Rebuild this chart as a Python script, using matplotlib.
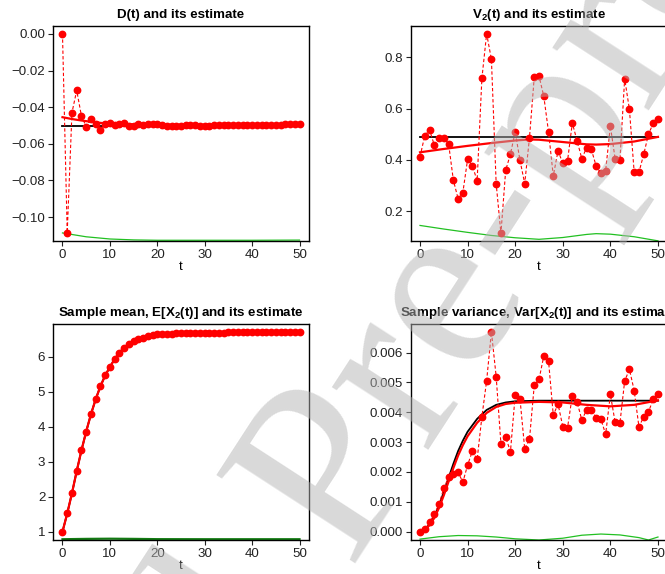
import matplotlib
matplotlib.use("Agg")
import matplotlib.pyplot as plt
import numpy as np

plt.rcParams["font.family"] = ["Liberation Sans", "DejaVu Sans"]
plt.rcParams["mathtext.fontset"] = "custom"
plt.rcParams["mathtext.bf"] = "Liberation Sans:bold"
plt.rcParams["mathtext.rm"] = "Liberation Sans:bold"
plt.rcParams["mathtext.default"] = "bf"

t = np.arange(51)

# D(t): simulated points, smooth estimate, true value, weight curve
d_pts = [0.0, -0.1085, -0.0430, -0.0309, -0.0448, -0.0506, -0.0463, -0.0492, -0.0523, -0.0494,
         -0.0488, -0.0495, -0.0492, -0.0488, -0.0503, -0.0501, -0.0494, -0.0495, -0.0494, -0.0492,
         -0.0494, -0.0495, -0.0501, -0.0505, -0.0505, -0.0503, -0.0497, -0.0497, -0.0499, -0.0501,
         -0.0501, -0.0503, -0.0499, -0.0497, -0.0495, -0.0495, -0.0495, -0.0495, -0.0499, -0.0499,
         -0.0499, -0.0497, -0.0497, -0.0497, -0.0495, -0.0495, -0.0495, -0.0494, -0.0494, -0.0494,
         -0.0494]
d_true = -0.0501
d_est_t = [0, 2, 4, 6, 8, 10, 15, 20, 25, 30, 35, 40, 45, 50]
d_est = [-0.0455, -0.0465, -0.0473, -0.0480, -0.0486, -0.0490, -0.0494, -0.0496, -0.0497,
         -0.0497, -0.0496, -0.0496, -0.0495, -0.0495]
d_w_t = [0, 5, 10, 15, 20, 30, 40, 50]
d_w = [-0.1087, -0.1108, -0.1120, -0.1125, -0.1127, -0.1127, -0.1127, -0.1126]

# V2(t)
v_pts = [0.413, 0.495, 0.517, 0.458, 0.486, 0.484, 0.464, 0.322, 0.249, 0.273,
         0.403, 0.378, 0.319, 0.718, 0.892, 0.792, 0.308, 0.114, 0.360, 0.423,
         0.510, 0.399, 0.308, 0.487, 0.722, 0.727, 0.649, 0.510, 0.338, 0.436,
         0.387, 0.397, 0.544, 0.475, 0.405, 0.448, 0.441, 0.377, 0.348, 0.358,
         0.532, 0.404, 0.399, 0.717, 0.597, 0.352, 0.352, 0.422, 0.500, 0.543,
         0.558]
v_true = 0.490
v_est_t = [0, 5, 10, 15, 20, 23, 25, 30, 35, 37, 40, 45, 50]
v_est = [0.430, 0.443, 0.455, 0.466, 0.476, 0.480, 0.479, 0.470, 0.461, 0.460, 0.462, 0.472, 0.490]
v_w_t = [0, 5, 10, 15, 20, 25, 30, 35, 37, 40, 45, 50]
v_w = [0.145, 0.131, 0.118, 0.106, 0.097, 0.091, 0.098, 0.110, 0.113, 0.111, 0.101, 0.085]

# sample mean E[X2(t)]
m_pts = [1.00, 1.52, 2.10, 2.73, 3.32, 3.86, 4.35, 4.78, 5.15, 5.46,
         5.70, 5.93, 6.11, 6.25, 6.35, 6.44, 6.50, 6.54, 6.58, 6.61,
         6.64, 6.65, 6.65, 6.65, 6.66, 6.66, 6.66, 6.67, 6.67, 6.67,
         6.67, 6.68, 6.68, 6.68, 6.68, 6.69, 6.69, 6.69, 6.69, 6.69,
         6.69, 6.70, 6.70, 6.70, 6.70, 6.70, 6.70, 6.71, 6.71, 6.71,
         6.71]
m_w_t = [0, 5, 10, 15, 20, 30, 40, 50]
m_w = [0.785, 0.795, 0.800, 0.795, 0.787, 0.785, 0.785, 0.785]

# sample variance Var[X2(t)]
s_pts = [0.0, 0.00009, 0.00031, 0.00058, 0.00093, 0.00145, 0.00183, 0.00193, 0.00199, 0.00166,
         0.00223, 0.00270, 0.00242, 0.00385, 0.00506, 0.00670, 0.00520, 0.00294, 0.00317, 0.00268,
         0.00458, 0.00446, 0.00277, 0.00310, 0.00490, 0.00510, 0.00588, 0.00573, 0.00390, 0.00428,
         0.00352, 0.00349, 0.00456, 0.00435, 0.00374, 0.00408, 0.00408, 0.00382, 0.00378, 0.00326,
         0.00460, 0.00366, 0.00363, 0.00505, 0.00544, 0.00473, 0.00351, 0.00385, 0.00401, 0.00444,
         0.00461]
s_curve_t = [0, 1, 2, 3, 4, 5, 6, 7, 8, 9, 10, 12, 14, 16, 18, 20, 25, 30, 35, 40, 45, 50]
s_true = [0.0, 0.00006, 0.00025, 0.00050, 0.00088, 0.00133, 0.00180, 0.00227, 0.00270, 0.00305,
          0.00335, 0.00378, 0.00408, 0.00425, 0.00433, 0.00437, 0.00439, 0.00439, 0.00439,
          0.00439, 0.00439, 0.00439]
s_est = [0.0, 0.00005, 0.00022, 0.00046, 0.00080, 0.00122, 0.00168, 0.00213, 0.00255, 0.00290,
         0.00320, 0.00365, 0.00398, 0.00418, 0.00428, 0.00432, 0.00435, 0.00433, 0.00425,
         0.00420, 0.00425, 0.00440]
s_w_t = [0, 4, 8, 12, 16, 20, 25, 30, 34, 38, 42, 46, 48, 50]
s_w = [-0.00025, -0.00017, -0.00013, -0.00014, -0.00018, -0.00024, -0.00028, -0.00022,
       -0.00012, -0.00008, -0.00011, -0.00020, -0.00028, -0.00018]

RED = "#ff0000"
GREEN = "#22c022"
W, H = 665, 574
FS = 9.6


def box(l, r, top, bot):
    return [l / W, 1 - bot / H, (r - l) / W, (bot - top) / H]


def style(ax, title, ylim, yticks, fmt):
    ax.set_xlim(-2, 52)
    ax.set_ylim(*ylim)
    ax.set_xticks([0, 10, 20, 30, 40, 50])
    ax.set_yticks(yticks)
    ax.set_yticklabels([(fmt % v).replace("-", "\u2212") for v in yticks])
    ax.tick_params(direction="out", length=3.5, width=0.8, labelsize=FS,
                   pad=2, colors="#222222")
    for s in ax.spines.values():
        s.set_linewidth(1.0)
    ax.set_title(title, fontsize=FS, fontweight="bold", pad=6)
    ax.set_xlabel("t", fontsize=FS, labelpad=0)


def draw(ax, pts, true_t, true_v, est_t, est_v, w_t, w_v, wcol=GREEN, wlw=0.9):
    ax.plot(w_t, w_v, color=wcol, lw=wlw, zorder=2)
    if true_v is not None:
        ax.plot(true_t, true_v, color="black", lw=1.3, zorder=3)
    if est_v is not None:
        ax.plot(est_t, est_v, color=RED, lw=1.6, zorder=4)
    ax.plot(t, pts, color=RED, lw=0.8, ls=(0, (3, 2)), marker="o",
            ms=4.6, mec=RED, mfc=RED, zorder=5)


fig = plt.figure(figsize=(W / 100, H / 100), dpi=100)

ax1 = fig.add_axes(box(53, 309, 26, 241))
draw(ax1, d_pts, [0, 50], [d_true, d_true], d_est_t, d_est, d_w_t, d_w)
style(ax1, "D(t) and its estimate", (-0.1131, 0.0043),
      [-0.10, -0.08, -0.06, -0.04, -0.02, 0.0], "%.2f")

ax2 = fig.add_axes(box(410.5, 667.5, 26, 241))
draw(ax2, v_pts, [0, 50], [v_true, v_true], v_est_t, v_est, v_w_t, v_w)
style(ax2, "V$_2$(t) and its estimate", (0.0844, 0.922),
      [0.2, 0.4, 0.6, 0.8], "%.1f")

ax3 = fig.add_axes(box(53, 309, 324, 540))
draw(ax3, m_pts, t, m_pts, t, m_pts, m_w_t, m_w, wcol="#127a12", wlw=1.6)
style(ax3, "Sample mean, E[X$_2$(t)] and its estimate", (0.763, 6.93),
      [1, 2, 3, 4, 5, 6], "%d")

ax4 = fig.add_axes(box(410.5, 667.5, 324, 540))
draw(ax4, s_pts, s_curve_t, s_true, s_curve_t, s_est, s_w_t, s_w)
style(ax4, "Sample variance, Var[X$_2$(t)] and its estimate", (-0.00028, 0.00696),
      [0.0, 0.001, 0.002, 0.003, 0.004, 0.005, 0.006], "%.3f")

# diagonal watermark laid over the whole page
wm = dict(fontsize=181, family=["Liberation Serif", "DejaVu Serif"], rotation=57,
          rotation_mode="anchor", va="baseline", color="#b4b4b4", alpha=0.5, zorder=20)
fig.text(347 / W, 1 - 564 / H, "Pre-proof", ha="left", **wm)
fig.text(347 / W, 1 - 564 / H, "Journal ", ha="right", **wm)

fig.savefig("out.png", dpi=100)
